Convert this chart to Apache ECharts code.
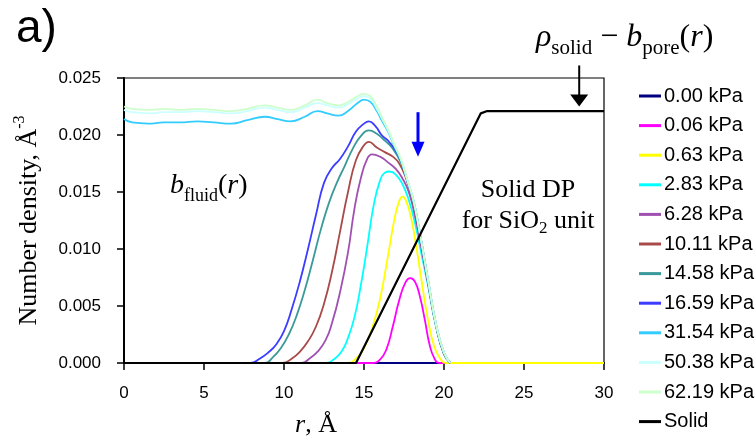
<!DOCTYPE html>
<html>
<head>
<meta charset="utf-8">
<script src="https://cdn.jsdelivr.net/npm/echarts@6/dist/echarts.min.js"></script>
<style>
  html, body { margin: 0; padding: 0; background: #fff; }
  #chart { width: 755px; height: 443px; }
</style>
</head>
<body>
<div id="chart"></div>
<script>
// Pressure labels, in legend order
const pressures = ['0.00 kPa', '0.06 kPa', '0.63 kPa', '2.83 kPa', '6.28 kPa', '10.11 kPa',
                   '14.58 kPa', '16.59 kPa', '31.54 kPa', '50.38 kPa', '62.19 kPa', 'Solid'];
const colors = ['#000080', '#ff00ff', '#ffff00', '#00ffff', '#a050b0', '#a84a4a',
                '#3a9a9a', '#3c3cff', '#33ccff', '#ccffff', '#ccffcc', '#000000'];

// Density profiles [r (Å), number density (Å^-3)]
const p000 = [[0, 0], [30, 0]];
const p006 = [[0, 0], [15.5, 0], [16.0, 0.0003], [16.4, 0.0012], [16.8, 0.0032], [17.2, 0.0055],
  [17.6, 0.0071], [17.9, 0.00745], [18.2, 0.0071], [18.5, 0.0058], [18.8, 0.0038], [19.1, 0.0016],
  [19.4, 0.0004], [19.7, 0], [30, 0]];
const p063 = [[0, 0], [14.0, 0], [14.5, 0.0004], [15.0, 0.0013], [15.5, 0.0030], [16.0, 0.0056],
  [16.5, 0.0094], [16.9, 0.0126], [17.2, 0.0142], [17.4, 0.0146], [17.6, 0.0143], [17.9, 0.0130],
  [18.2, 0.0108], [18.6, 0.0072], [19.0, 0.0038], [19.4, 0.0014], [19.8, 0.0003], [20.1, 0], [30, 0]];
const p283 = [[0, 0], [12.6, 0], [13.1, 0.0003], [13.6, 0.0010], [14.0, 0.0022], [14.4, 0.0040],
  [14.8, 0.0068], [15.2, 0.0102], [15.6, 0.0138], [16.0, 0.0160], [16.3, 0.0167], [16.6, 0.0168],
  [17.0, 0.0165], [17.4, 0.0157], [17.8, 0.0143], [18.2, 0.0122], [18.6, 0.0095], [19.0, 0.0068],
  [19.5, 0.0032], [20.0, 0.0008], [20.4, 0]];
const p628 = [[0, 0], [11.1, 0], [11.6, 0.0004], [12.1, 0.0010], [12.6, 0.0020], [13.0, 0.0035],
  [13.5, 0.0062], [14.0, 0.0097], [14.4, 0.0135], [14.8, 0.0162], [15.2, 0.0179], [15.5, 0.0183],
  [16.0, 0.0181], [16.5, 0.0176], [17.0, 0.0170], [17.4, 0.0162], [17.8, 0.0150], [18.2, 0.0128],
  [18.6, 0.0100], [19.0, 0.0070], [19.5, 0.0033], [20.0, 0.0008], [20.4, 0]];
const p1011 = [[0, 0], [9.9, 0], [10.5, 0.0004], [11.0, 0.0010], [11.5, 0.0019], [12.0, 0.0032],
  [12.5, 0.0052], [13.0, 0.0080], [13.5, 0.0115], [14.0, 0.0150], [14.5, 0.0178], [15.0, 0.0191],
  [15.3, 0.0194], [15.8, 0.0189], [16.3, 0.0185], [16.8, 0.0181], [17.2, 0.0175], [17.6, 0.0163],
  [18.0, 0.0145], [18.5, 0.0112], [19.0, 0.0071], [19.5, 0.0033], [20.0, 0.0008], [20.4, 0]];
const p1458 = [[0, 0], [8.8, 0], [9.3, 0.0005], [9.8, 0.0013], [10.3, 0.0025], [10.8, 0.0042],
  [11.3, 0.0064], [11.8, 0.0090], [12.3, 0.0117], [12.8, 0.0140], [13.3, 0.0158], [13.8, 0.0173],
  [14.3, 0.0188], [14.8, 0.0199], [15.3, 0.0204], [15.8, 0.0201], [16.3, 0.0195], [16.8, 0.0188],
  [17.3, 0.0176], [17.7, 0.0160], [18.1, 0.0140], [18.5, 0.0113], [19.0, 0.0072], [19.5, 0.0033],
  [20.0, 0.0008], [20.4, 0]];
const p1659 = [[0, 0], [7.9, 0], [8.5, 0.0004], [9.0, 0.0009], [9.5, 0.0016], [10.0, 0.0028],
  [10.5, 0.0048], [11.0, 0.0072], [11.5, 0.0100], [12.0, 0.0130], [12.5, 0.0158], [13.0, 0.0171],
  [13.5, 0.0179], [14.0, 0.0190], [14.5, 0.0203], [15.0, 0.0210], [15.3, 0.0212], [15.7, 0.0208],
  [16.1, 0.0200], [16.5, 0.0195], [16.9, 0.0188], [17.3, 0.0178], [17.7, 0.0160], [18.1, 0.0142],
  [18.5, 0.0113], [19.0, 0.0073], [19.5, 0.0034], [20.0, 0.0009], [20.4, 0]];
const p3154 = [[0, 0.0214], [0.5, 0.0211], [1.5, 0.0210], [2.5, 0.0211], [3.5, 0.0211], [4.6, 0.0212],
  [5.6, 0.0211], [6.7, 0.0210], [7.7, 0.0213], [8.8, 0.0216], [9.6, 0.0214], [10.4, 0.0212],
  [11.3, 0.0216], [12.1, 0.0221], [12.7, 0.0219], [13.4, 0.0217], [14.0, 0.0221], [14.6, 0.0228],
  [15.0, 0.0231], [15.4, 0.0229], [15.8, 0.0221], [16.1, 0.0213], [16.5, 0.0203], [16.9, 0.0190],
  [17.3, 0.0178], [17.7, 0.0160], [18.1, 0.0142], [18.5, 0.0113], [19.0, 0.0073], [19.5, 0.0034],
  [20.0, 0.0009], [20.4, 0]];
const p5038 = [[0, 0.0222], [0.5, 0.0220], [1.5, 0.0219], [2.5, 0.0220], [3.5, 0.0220], [4.6, 0.0221],
  [5.6, 0.0220], [6.7, 0.0219], [7.7, 0.0221], [8.8, 0.0224], [9.6, 0.0222], [10.4, 0.0220],
  [11.3, 0.0224], [12.1, 0.0228], [12.7, 0.0226], [13.4, 0.0224], [14.0, 0.0227], [14.6, 0.0232],
  [15.0, 0.0234], [15.4, 0.0232], [15.8, 0.0223], [16.1, 0.0215], [16.5, 0.0204], [16.9, 0.0191],
  [17.3, 0.0179], [17.7, 0.0161], [18.1, 0.0142], [18.5, 0.0113], [19.0, 0.0073], [19.5, 0.0034],
  [20.0, 0.0009], [20.4, 0]];
const p6219 = [[0, 0.0225], [0.5, 0.0223], [1.5, 0.0222], [2.5, 0.0223], [3.5, 0.0222], [4.6, 0.0223],
  [5.6, 0.0222], [6.7, 0.0221], [7.7, 0.0223], [8.8, 0.0226], [9.6, 0.0224], [10.4, 0.0222],
  [11.3, 0.0226], [12.1, 0.0231], [12.7, 0.0228], [13.4, 0.0226], [14.0, 0.0229], [14.6, 0.0234],
  [15.0, 0.0236], [15.4, 0.0234], [15.8, 0.0225], [16.1, 0.0216], [16.5, 0.0205], [16.9, 0.0192],
  [17.3, 0.0179], [17.7, 0.0161], [18.1, 0.0142], [18.5, 0.0113], [19.0, 0.0073], [19.5, 0.0034],
  [20.0, 0.0009], [20.4, 0]];
// Solid density profile (SiO2 unit)
const solid = [[0, 0], [14.5, 0], [22.3, 0.0219], [22.7, 0.0221], [30, 0.0221]];

const profiles = [p000, p006, p063, p283, p628, p1011, p1458, p1659, p3154, p5038, p6219, solid];

// Axis ticks
const xTicks = { min: 0, max: 30, step: 5 };
const yTicks = { min: 0, max: 0.025, step: 0.005 };

// Arrow annotations, in data coordinates
const blueArrow = { r: 18.375, from: 0.0220, to: 0.0181 };
const blackArrow = { r: 28.45, from: 0.0261, to: 0.0225 };

const SERIF = "'Liberation Serif', 'Times New Roman', serif";
const SANS = "'Liberation Sans', Arial, sans-serif";

const last = profiles.length - 1;
const series = profiles.map((d, i) => ({
  name: pressures[i],
  type: 'line',
  data: d,
  showSymbol: false,
  symbol: 'none',
  smooth: i === last ? false : 0.5,
  lineStyle: { color: colors[i], width: i === last ? 2.2 : 1.8 },
  itemStyle: { color: colors[i] },
  z: 3 + i
}));

const chart = echarts.init(document.getElementById('chart'), null, { renderer: 'canvas' });

chart.setOption({
  animation: false,
  backgroundColor: '#ffffff',
  grid: {
    left: 124, right: 151, top: 78, bottom: 80,
    show: true, borderColor: '#000', borderWidth: 1.2, backgroundColor: 'transparent'
  },
  legend: {
    orient: 'vertical',
    left: 634, top: 81,
    itemWidth: 22, itemHeight: 3, itemGap: 9.6,
    icon: 'rect',
    data: pressures,
    textStyle: { fontFamily: SANS, fontSize: 20, color: '#000', padding: [0, 0, 0, -2] }
  },
  xAxis: {
    type: 'value',
    min: xTicks.min, max: xTicks.max, interval: xTicks.step,
    axisLine: { show: true, lineStyle: { color: '#000', width: 2 } },
    axisTick: { show: true, inside: false, length: 7, lineStyle: { color: '#000', width: 1.5 } },
    axisLabel: { margin: 22, fontFamily: SANS, fontSize: 17, color: '#000' },
    splitLine: { show: false },
    name: '{i|r}{n|, Å}',
    nameLocation: 'middle',
    nameGap: 49,
    nameTextStyle: {
      padding: [0, 96, 0, 0],
      rich: {
        i: { fontFamily: SERIF, fontStyle: 'italic', fontSize: 26, color: '#000' },
        n: { fontFamily: SERIF, fontSize: 26, color: '#000' }
      }
    }
  },
  yAxis: {
    type: 'value',
    min: yTicks.min, max: yTicks.max, interval: yTicks.step,
    axisLine: { show: true, lineStyle: { color: '#000', width: 2 } },
    axisTick: { show: true, inside: false, length: 7, lineStyle: { color: '#000', width: 1.5 } },
    axisLabel: {
      margin: 23, fontFamily: SANS, fontSize: 17, color: '#000',
      formatter: v => v.toFixed(3)
    },
    splitLine: { show: false },
    name: '{n|Number density, Å}{s|-3}',
    nameLocation: 'middle',
    nameGap: 82,
    nameRotate: 90,
    nameTextStyle: {
      rich: {
        n: { fontFamily: SERIF, fontSize: 26, color: '#000', lineHeight: 30, verticalAlign: 'bottom' },
        s: { fontFamily: SERIF, fontSize: 16, color: '#000', lineHeight: 30, verticalAlign: 'top' }
      }
    }
  },
  series: series
});

// Annotations: arrows anchored in data space, texts placed around the plot
function px(r, v) { return chart.convertToPixel({ gridIndex: 0 }, [r, v]); }

function arrow(a, color, shaftW, headW, headH) {
  const top = px(a.r, a.from);
  const tip = px(a.r, a.to);
  return [
    { type: 'line', z: 100, silent: true,
      shape: { x1: top[0], y1: top[1], x2: tip[0], y2: tip[1] - headH + 1 },
      style: { stroke: color, lineWidth: shaftW } },
    { type: 'polygon', z: 100, silent: true,
      shape: { points: [[tip[0] - headW / 2, tip[1] - headH], [tip[0] + headW / 2, tip[1] - headH], [tip[0], tip[1]]] },
      style: { fill: color } }
  ];
}

const subRich = (size) => ({
  i: { fontFamily: SERIF, fontStyle: 'italic', fontSize: size, lineHeight: size + 10, verticalAlign: 'middle', fill: '#000' },
  n: { fontFamily: SERIF, fontSize: size, lineHeight: size + 10, verticalAlign: 'middle', fill: '#000' },
  s: { fontFamily: SERIF, fontSize: Math.round(size * 0.66), lineHeight: size + 10, verticalAlign: 'bottom', fill: '#000' }
});

chart.setOption({
  graphic: [
    ...arrow(blueArrow, '#0000ff', 3, 13, 15),
    ...arrow(blackArrow, '#000000', 2, 18, 12),
    { type: 'text', left: 16, top: 6, z: 100,
      style: { text: 'a)', font: '46px ' + SANS, fill: '#000' } },
    { type: 'text', left: 536, top: 22, z: 100,
      style: { text: '{i|ρ}{s|solid}{n| − }{i|b}{s|pore}{n|(}{i|r}{n|)}', rich: subRich(32) } },
    { type: 'text', left: 170, top: 172, z: 100,
      style: { text: '{i|b}{s|fluid}{n|(}{i|r}{n|)}', rich: subRich(28) } },
    { type: 'text', x: 528, y: 177, z: 100,
      style: { text: 'Solid DP', font: '26px ' + SERIF, fill: '#000', align: 'center' } },
    { type: 'text', x: 528, y: 205, z: 100,
      style: { text: '{n|for SiO}{s|2}{n| unit}', align: 'center',
        rich: {
          n: { fontFamily: SERIF, fontSize: 26, lineHeight: 32, verticalAlign: 'middle', fill: '#000' },
          s: { fontFamily: SERIF, fontSize: 17, lineHeight: 32, verticalAlign: 'bottom', fill: '#000' }
        } } }
  ]
});
</script>
</body>
</html>
